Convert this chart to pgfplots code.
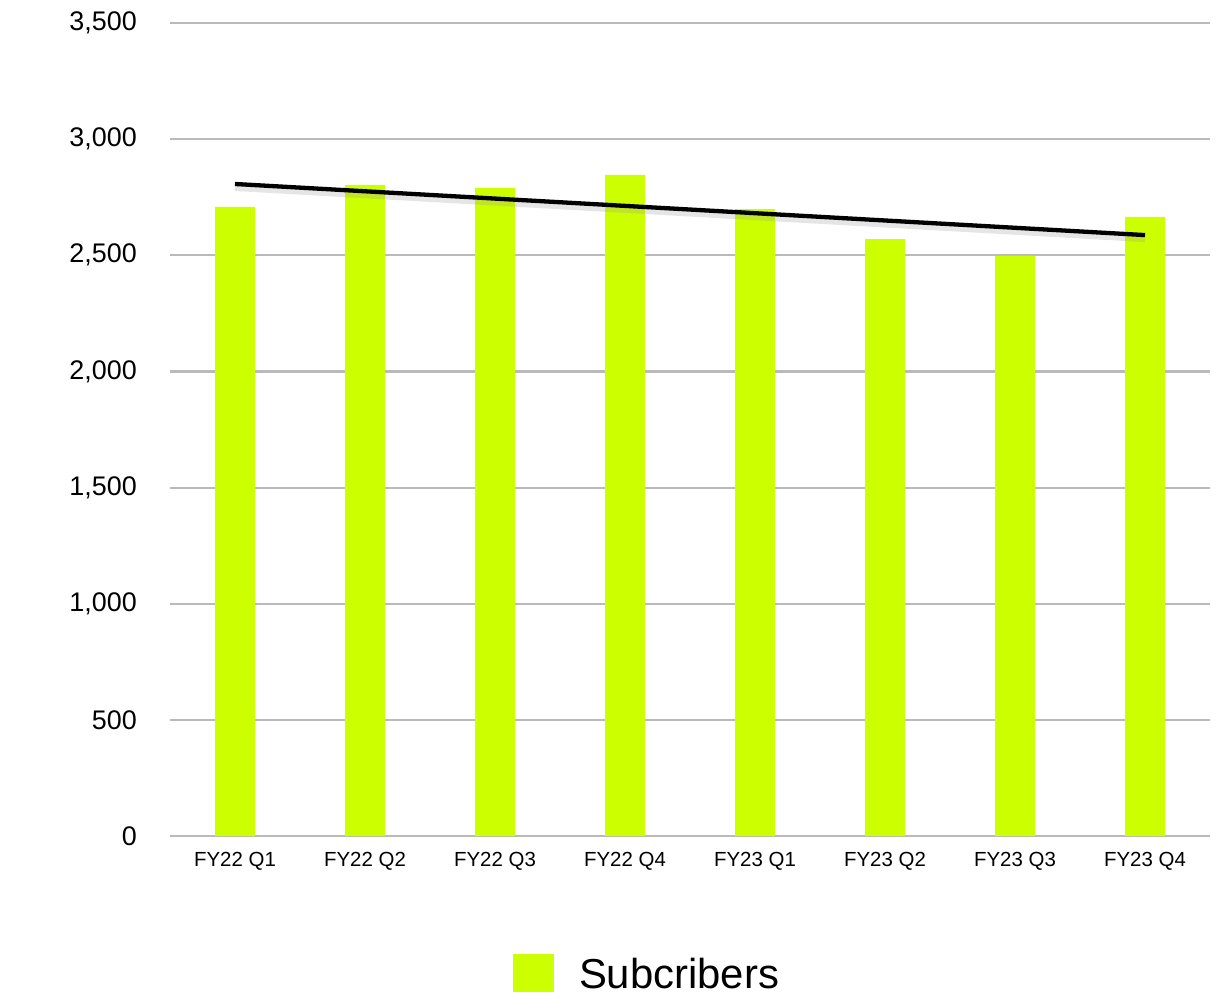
\documentclass[border=0pt]{standalone}
\usepackage{fontspec}
\setmainfont{Liberation Sans}
\usepackage{pgfplots}
\pgfplotsset{compat=1.18}
\definecolor{barlime}{RGB}{204,255,0}
\definecolor{gridgray}{RGB}{186,186,186}
\begin{document}
\begin{tikzpicture}
\begin{axis}[
  scale only axis, width=1040bp, height=813bp,
  xmin=-0.5, xmax=7.5, ymin=0, ymax=3500,
  ytick={0,500,...,3500},
  xtick={0,...,7},
  xticklabels={FY22 Q1,FY22 Q2,FY22 Q3,FY22 Q4,FY23 Q1,FY23 Q2,FY23 Q3,FY23 Q4},
  axis line style={draw=none},
  tick style={draw=none},
  ymajorgrids, major grid style={gridgray, line width=2.2bp},
  /pgf/number format/assume math mode=true,
  /pgf/number format/1000 sep={,},
  yticklabel style={font=\fontsize{27}{27}\selectfont, inner sep=0pt, anchor=east, xshift=-33bp},
  xticklabel style={font=\fontsize{20.5}{20.5}\selectfont, inner sep=0pt, anchor=north, yshift=-16bp},
  legend style={draw=none, at={(0.4577,-0.1685)}, anchor=center,
    font=\fontsize{42}{42}\selectfont, inner sep=0pt,
    nodes={inner sep=0pt, text depth=0pt}, /tikz/every odd column/.append style={column sep=25bp}},
  legend image code/.code={\fill[barlime] (0bp,-19bp) rectangle (41bp,19bp);},
]
\addplot[ybar, bar width=40bp, fill=barlime, draw=none] coordinates {
  (0,2708) (1,2803) (2,2790) (3,2846) (4,2699) (5,2570) (6,2497) (7,2665)};
\addlegendentry{Subcribers}
\addplot[black!40, opacity=0.25, line width=6bp, yshift=-4bp, forget plot] coordinates {(0,2807) (7,2587)};
\addplot[black, line width=4.3bp, forget plot] coordinates {(0,2807) (7,2587)};
\end{axis}
\path ([xshift=-170bp,yshift=-160bp]current axis.south west) rectangle ([xshift=21bp,yshift=23bp]current axis.north east);
\end{tikzpicture}
\end{document}
